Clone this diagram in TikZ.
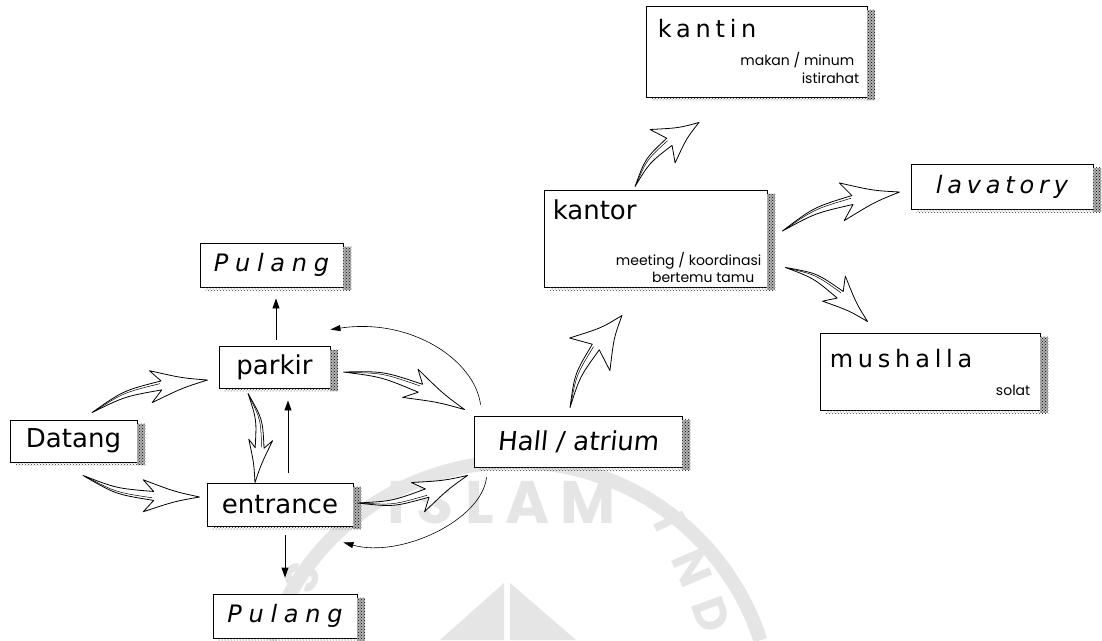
\documentclass[tikz,border=0pt]{standalone}
\usepackage{fontspec}
\setmainfont{DejaVu Sans}
\newfontfamily\spacedfont[LetterSpace=20]{DejaVu Sans}
\newfontfamily\widefont[LetterSpace=28]{DejaVu Sans}
\newfontfamily\leanfont[FakeSlant=0.1]{DejaVu Sans}
\newfontfamily\notefont{Poppins}
\newfontfamily\markfont[LetterSpace=19]{Poppins}
\newfontfamily\sealfont{Poppins}
\usetikzlibrary{calc,arrows.meta,patterns}

\tikzset{
  room/.style={draw=black, line width=0.9pt, fill=white, inner sep=0pt},
  plainlabel/.style={font=\fontsize{26}{30}\selectfont},
  slantlabel/.style={font=\leanfont\fontsize{26}{30}\selectfont},
  homelabel/.style={font=\widefont\itshape\fontsize{24}{28}\selectfont},
  spacedtitle/.style={font=\spacedfont\fontsize{24}{28}\selectfont, inner sep=0pt, anchor=base west},
  plaintitle/.style={font=\fontsize{26}{30}\selectfont, inner sep=0pt, anchor=base west},
  note/.style={font=\notefont\fontsize{14}{16}\selectfont, inner sep=0pt, anchor=base east},
  swooshline/.style={draw=black, line width=0.8pt, fill=white, line join=round},
  swooshrib/.style={draw=black, line width=0.5pt},
  flow/.style={draw=black, line width=0.9pt, -{Triangle[length=10pt,width=7pt]}},
  returnline/.style={draw=black, line width=0.6pt, -{Triangle[length=10pt,width=6pt]}},
  watermark/.style={black!10},
  sealletter/.style={watermark, inner sep=0pt, font=\sealfont\bfseries\fontsize{46}{46}\selectfont},
}

% grainy drop shadow on the right and lower edge of a box
\newcommand\boxshadow[1]{%
  \fill[black!30] ([yshift=-4pt]#1.north east) rectangle ([xshift=8pt,yshift=-3pt]#1.south east);
  \fill[pattern=crosshatch dots, pattern color=black]
    ([yshift=-4pt]#1.north east) rectangle ([xshift=8pt,yshift=-3pt]#1.south east);
  \fill[pattern=crosshatch dots, pattern color=black!80]
    ([xshift=6pt]#1.south west) rectangle ([yshift=-3pt]#1.south east);}

% hand-drawn swoosh arrow: tail, tip, bulge side (90 or -90), head half-width
\newcommand\swoosh[4]{%
  \begin{scope}[shift={(#1)}, x={($(#2)-(#1)$)}, y={($(#1)!1pt!#3:(#2)-(#1)$)}]
    \path[swooshline]
      (0,0) .. controls (0.3,12.6) .. (0.625,11.7)
      -- ({0.53+0.00155*#4},{9+0.985*#4})
      .. controls (0.8,{4+0.3*#4}) .. (1,0)
      .. controls (0.78,{4-0.3*#4}) .. ({0.53-0.00155*#4},{9-0.985*#4})
      -- (0.611,2.9)
      .. controls (0.3,6.6) .. (0,0) -- cycle;
    \draw[swooshrib] (0.03,0.8) .. controls (0.3,10.6) .. (0.61,9.4);
  \end{scope}}

\begin{document}
\begin{tikzpicture}[x=1pt, y=-1pt]
\useasboundingbox (0,0) rectangle (1102,640);
\fill[white] (0,0) rectangle (1102,640);

% faint seal printed behind the diagram
\begin{scope}
  \clip (0,0) rectangle (1102,640);
  \draw[watermark, line width=14pt] (515,720) ++(198:258) arc[start angle=198, end angle=342, radius=258];
  \node[watermark, font=\markfont\bfseries\fontsize{60}{60}\selectfont] (sealword) at (502,502) {ISLAM};
  \node[sealletter, rotate=-64] (sealI) at (670,522) {I};
  \node[sealletter, rotate=-67] (sealN) at (692,568) {N};
  \node[sealletter, rotate=-70] (sealD) at (711,615) {D};
  \node[sealletter, rotate=70] (sealS) at (302,578) {S};
  \fill[watermark] (440,640) -- (504,583) -- (504,640) -- cycle;
  \fill[watermark] (510,583) -- (576,640) -- (510,640) -- cycle;
\end{scope}

% rooms
\node[room, plainlabel, minimum width=127pt, minimum height=42pt] (datang) at (73.5,441) {Datang};
\node[room, plainlabel, minimum width=111pt, minimum height=42pt] (parkir) at (274.5,367) {parkir};
\node[room, plainlabel, minimum width=146pt, minimum height=43pt] (entrance) at (280,504.5) {entrance};
\node[room, homelabel, minimum width=143pt, minimum height=44pt] (pulangA) at (271.5,265) {Pulang};
\node[room, homelabel, minimum width=144pt, minimum height=44pt] (pulangB) at (285,616) {Pulang};
\node[room, slantlabel, minimum width=208pt, minimum height=51pt] (hall) at (578,441.5) {Hall / atrium};
\node[room, minimum width=223pt, minimum height=97pt] (kantor) at (655.5,238.5) {};
\node[room, minimum width=221pt, minimum height=91pt] (kantin) at (756.5,51.5) {};
\node[room, minimum width=182pt, minimum height=45pt, font=\spacedfont\itshape\fontsize{24}{28}\selectfont] (lavatory) at (1002,186.5) {lavatory};
\node[room, minimum width=220pt, minimum height=77pt] (mushalla) at (930,371.5) {};

% titles and notes inside the larger rooms
\node[plaintitle] (kantorname) at ($(kantor.north west)+(9,30)$) {kantor};
\node[note] (kantornote1) at ($(kantor.north east)+(-6,76)$) {meeting / koordinasi};
\node[note] (kantornote2) at ($(kantor.north east)+(-13,93)$) {bertemu tamu};
\node[spacedtitle] (kantinname) at ($(kantin.north west)+(12,32)$) {kantin};
\node[note] (kantinnote1) at ($(kantin.north east)+(-13,60)$) {makan / minum};
\node[note] (kantinnote2) at ($(kantin.north east)+(-8,78)$) {istirahat};
\node[spacedtitle] (mushallaname) at ($(mushalla.north west)+(10,35)$) {mushalla};
\node[note] (mushallanote) at ($(mushalla.north east)+(-10,63)$) {solat};

\foreach \r in {datang,parkir,entrance,pulangA,pulangB,hall,kantor,kantin,lavatory,mushalla}
  {\boxshadow{\r}}

% ends of the swoosh arrows
\coordinate (s1) at ($(datang.north)+(18.5,-7)$);
\coordinate (e1) at ($(parkir.west)+(-11,13)$);
\coordinate (s2) at ($(datang.south)+(9.5,13)$);
\coordinate (e2) at ($(entrance.west)+(-7,-7.5)$);
\coordinate (s3) at ($(parkir.east)+(13,5)$);
\coordinate (e3) at ($(hall.north west)+(-9,-6)$);
\coordinate (s4) at ($(parkir.south)+(-26.5,5)$);
\coordinate (e4) at ($(entrance.north)+(-25,0)$);
\coordinate (s5) at ($(entrance.east)+(4,-1.5)$);
\coordinate (e5) at ($(hall.south west)+(-6,8)$);
\coordinate (s6) at ($(hall.north)+(-8,-8)$);
\coordinate (e6) at ($(kantor.south)+(-33.5,28)$);
\coordinate (s7) at ($(kantor.north)+(-20.5,-3)$);
\coordinate (e7) at ($(kantin.south)+(-57.5,25)$);
\coordinate (s8) at ($(kantor.east)+(15,-7.5)$);
\coordinate (e8) at ($(lavatory.west)+(-11,5.5)$);
\coordinate (s9) at ($(kantor.south east)+(18,-20)$);
\coordinate (e9) at ($(mushalla.north west)+(48,-11)$);

\swoosh{s1}{e1}{90}{16}
\swoosh{s2}{e2}{-90}{16}
\swoosh{s3}{e3}{90}{16}
\swoosh{s4}{e4}{90}{12}
\swoosh{s5}{e5}{-90}{16}
\swoosh{s6}{e6}{90}{26}
\swoosh{s7}{e7}{90}{21}
\swoosh{s8}{e8}{90}{19}
\swoosh{s9}{e9}{90}{17}

% thin arrows
\draw[flow, shorten <=6pt, shorten >=11pt] ([xshift=1.5pt]parkir.north) -- ([xshift=1.5pt]parkir.north |- pulangA.south);
\draw[flow, shorten <=10pt, shorten >=12pt] ([xshift=8pt]entrance.north) -- ([xshift=8pt]entrance.north |- parkir.south);
\draw[flow, shorten <=9pt, shorten >=16pt] ([xshift=5pt]entrance.south) -- ([xshift=5pt]entrance.south |- pulangB.north);

% return loops around the hall
\draw[returnline] ([xshift=7pt,yshift=11pt]hall.north west) .. controls +(-6,-45) and +(80,-12) .. ([yshift=16pt]parkir.north east);
\draw[returnline] ([xshift=13pt,yshift=-10pt]hall.south west) .. controls +(-5,43) and +(57,16) .. ([xshift=-10pt,yshift=-16pt]entrance.south east);
\end{tikzpicture}
\end{document}
